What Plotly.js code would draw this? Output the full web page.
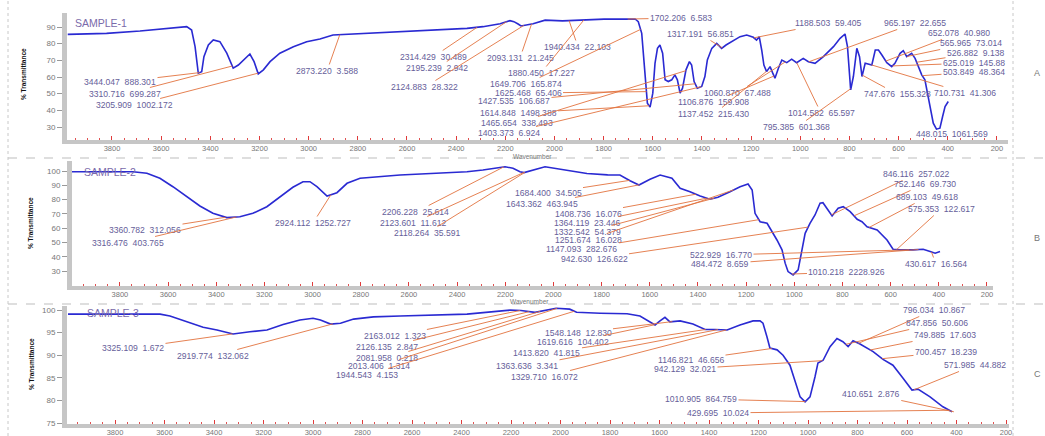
<!DOCTYPE html>
<html><head><meta charset="utf-8">
<script src="https://cdn.plot.ly/plotly-3.0.1.min.js"></script>
<style>html,body{margin:0;padding:0;background:#fff;}#chart{width:1045px;height:436px;}</style>
</head><body><div id="chart"></div>
<script>
// ---------------- DATA ----------------
const wn1=[3980,3822,3686,3552,3496,3476,3462,3449,3435,3426,3408,3388,3361,3333,3307,3286,3266,3239,3222,3205,3184,3157,3117,3062,3008,2954,2901,2763,2628,2494,2356,2291,2221,2181,2165,2148,2136,2087,2038,1967,1896,1798,1672,1659,1645,1632,1622,1611,1600,1591,1581,1571,1560,1550,1537,1523,1510,1500,1489,1479,1465,1451,1442,1432,1419,1401,1388,1378,1360,1340,1320,1302,1272,1245,1218,1191,1178,1167,1157,1148,1137,1123,1112,1103,1089,1075,1055,1035,1015,988,967,940,906,865,838,818,808,800,795,784,770,759,749,736,722,709,695,682,668,648,628,615,594,581,567,547,533,520,506,493,472,459,446,432,421,411,398];
const t1=[85.6,86.2,87.6,89.2,90.2,88.2,78.2,62.3,63.2,72.2,79.2,82.2,81.2,74.3,65.3,67.2,69.8,73.8,69.2,61.9,64.3,69.2,74.3,78.2,81.2,82.8,85.2,86.2,86.8,88.2,89.2,90.2,92.0,93.8,93.2,91.8,90.6,92.0,94.1,93.7,94.1,94.7,94.8,93.2,86.2,64.3,44.3,41.9,50.3,68.2,77.2,79.2,74.3,58.3,57.3,58.3,61.3,58.3,50.3,53.3,64.3,69.2,67.2,57.3,53.3,54.3,60.3,70.2,77.2,80.2,77.2,79.2,81.8,84.2,85.2,83.8,82.2,84.2,76.2,67.2,63.2,66.2,62.3,59.3,65.3,70.2,68.6,70.7,68.6,71.2,69.2,68.2,72.2,78.2,83.2,85.8,78.2,60.3,52.3,60.3,77.2,72.2,60.3,68.2,67.8,67.2,76.2,76.2,73.2,68.6,66.2,68.2,74.2,75.8,72.2,74.2,71.2,66.2,61.3,58.3,42.3,32.3,28.7,29.3,36.3,42.3,45.3];

const wn2=[3999,3746,3688,3634,3580,3522,3468,3414,3356,3302,3248,3190,3136,3082,3040,3011,2982,2940,2899,2857,2803,2637,2359,2293,2201,2168,2139,2122,2035,1977,1861,1775,1724,1682,1645,1599,1557,1508,1474,1433,1391,1350,1317,1267,1225,1192,1175,1163,1142,1113,1092,1072,1051,1038,1026,1005,984,968,955,935,914,893,881,860,843,818,797,768,739,719,698,656,615,590,561,507,465,436,415,395];
const t2=[99.5,99.5,98.4,94.9,89.0,82.0,75.5,70.4,67.4,68.0,70.4,75.0,82.0,88.6,92.5,92.5,89.0,82.5,84.8,91.4,94.9,97.2,99.5,100.7,103.0,101.9,99.5,98.9,103.0,101.3,98.2,97.3,97.2,93.2,90.2,94.2,97.2,94.9,87.9,85.5,82.5,80.2,81.6,85.5,89.0,90.9,86.7,70.4,64.5,63.4,57.5,51.7,44.8,35.5,29.6,27.3,30.8,44.8,56.4,63.4,69.2,77.4,77.8,72.7,68.5,73.9,75.0,71.5,66.2,64.5,61.0,58.7,51.7,45.2,44.8,44.8,45.2,43.6,42.5,43.6];

const wn3=[3990,3618,3578,3509,3444,3388,3323,3255,3186,3121,3053,3000,2970,2929,2889,2836,2756,2648,2378,2204,2160,2103,2018,1963,1935,1840,1731,1679,1618,1598,1578,1558,1517,1465,1416,1376,1327,1275,1222,1194,1182,1166,1154,1125,1101,1073,1053,1032,1012,992,972,960,939,911,883,859,838,818,790,762,737,697,657,616,580,556,507,455,418];
const t3=[99.1,99.1,98.7,97.4,96.2,95.6,94.7,95.2,95.6,96.8,97.8,98.2,97.8,96.9,97.1,98.0,98.5,98.7,99.1,100.0,99.9,99.5,100.4,100.2,99.5,99.3,99.2,98.7,96.7,97.6,98.4,97.4,97.6,96.9,95.7,95.7,95.6,96.7,97.6,97.6,97.1,94.1,91.6,91.2,90.0,87.8,84.5,80.8,79.7,80.8,85.2,88.3,88.9,91.9,93.7,93.0,91.9,93.2,92.5,91.5,90.8,89.1,87.8,84.9,82.3,82.5,80.8,78.6,77.5];

const xTicks=[3800,3600,3400,3200,3000,2800,2600,2400,2200,2000,1800,1600,1400,1200,1000,800,600,400,200];
const yTicks1=[30,40,50,60,70,80,90];
const yTicks2=[30,40,50,60,70,80,90,100];
const yTicks3=[75,80,85,90,95,100];
const sampleNames=["SAMPLE-1","SAMPLE-2","SAMPLE-3"];
const panelLetters=["A","B","C"];
const yTitle="% Transmittance";
const xTitle="Wavenumber";

const labels1=["3444.047  888.301","3310.716  699.287","3205.909  1002.172","2873.220  3.588","2314.429  30.489","2195.239  2.942","2124.883  28.322","2093.131  21.245","1940.434  22.103","1880.450  17.227","1702.206  6.583","1649.706  165.874","1625.468  65.406","1427.535  106.687","1614.848  1498.388","1465.654  338.493","1403.373  6.924","1317.191  56.851","1188.503  59.405","1060.870  67.488","1106.876  159.908","1137.452  215.430","1014.582  65.597","795.385  601.368","965.197  22.655","652.078  40.980","565.965  73.014","526.882  9.138","625.019  145.88","503.849  48.364","747.676  155.328","710.731  41.306","448.015  1061.569"];
const labels2=["3360.782  312.056","3316.476  403.765","2924.112  1252.727","2206.228  25.614","2123.601  11.612","2118.264  35.591","1684.400  34.505","1643.362  463.945","1408.736  16.076","1364.119  23.446","1332.542  54.379","1251.674  16.028","1147.093  282.676","942.630  126.622","522.929  16.770","484.472  8.659","1010.218  2228.926","846.116  257.022","752.146  69.730","689.103  49.618","575.353  122.617","430.617  16.564"];
const labels3=["3325.109  1.672","2919.774  132.062","2163.012  1.323","2126.135  2.847","2081.958  0.218","2013.406  1.314","1944.543  4.153","1548.148  12.830","1619.616  104.402","1413.820  41.815","1363.636  3.341","1329.710  16.072","1146.821  46.656","942.129  32.021","1010.905  864.759","429.695  10.024","796.034  10.867","847.856  50.606","749.885  17.603","700.457  18.239","571.985  44.882","410.651  2.876"];

// ---------------- LAYOUT (pixel positions of label texts) ----------------
const labelPos1=[[120,82],[125,94],[135,105],[327,71],[433,57],[437,68],[425,87],[520,58],[578,47],[541,73],[681,18],[526,84],[528,93],[514,101],[518,113],[517,123],[509,133],[700,34],[828,23],[737,93],[713,102],[714,114],[821,113],[797,127],[915,23],[959,33],[971,43],[976,53],[974,63],[974,72],[897,94],[965,93],[952,134]];
const labelPos2=[[145,230],[128,243],[313,223],[416,212],[413,223],[427,233],[548,193],[542,204],[588,214],[587,223],[587,232],[588,240],[582,249],[594,259],[721,255],[720,264],[847,272],[916,174],[925,184],[927,197],[941,209],[936,264]];
const labelPos3=[[133,348],[213,356],[395,336],[387,347],[387,358],[379,366],[367,375],[578,333],[573,342],[547,353],[527,366],[545,377],[691,360],[685,369],[701,399],[718,413],[934,310],[937,323],[945,335],[946,352],[975,365],[871,394]];

const W=1045,H=436;
const panels=[
 {box:[67,1008,13,140], xr:[3983,155], yr:[22.2,98.4], wn:wn1, t:t1, yt:yTicks1, labels:labels1, pos:labelPos1, name:[73,23], letter:73, ytitle:[24,74], xtitle:[532,156]},
 {box:[72,993,161,286], xr:[3999,175], yr:[19.5,107], wn:wn2, t:t2, yt:yTicks2, labels:labels2, pos:labelPos2, name:[82,172], letter:238, ytitle:[30,223], xtitle:[529,301]},
 {box:[67,1009,306,424], xr:[3994,188], yr:[74.8,100.9], wn:wn3, t:t3, yt:yTicks3, labels:labels3, pos:labelPos3, name:[85,313], letter:374, ytitle:[31,364], xtitle:null}
];

function interp(ws,ts,w){
  for(let i=0;i<ws.length-1;i++){
    if((w<=ws[i]&&w>=ws[i+1])){const f=(w-ws[i])/(ws[i+1]-ws[i]);return ts[i]+f*(ts[i+1]-ts[i]);}
  }
  return w>ws[0]?ts[0]:ts[ts.length-1];
}

const traces=[],annotations=[],shapes=[];
const layout={width:W,height:H,margin:{l:0,r:0,t:0,b:0},paper_bgcolor:'#fff',plot_bgcolor:'#fff',showlegend:false,
  font:{family:'"Liberation Sans", Arial, sans-serif',size:8,color:'#777'}};

const labelFont={family:'"Liberation Sans", Arial, sans-serif',size:8.6,color:'#66609a'};
const nb=s=>s.replace(/  /g,'\u00a0\u00a0');

panels.forEach((p,i)=>{
  const s=i===0?'':String(i+1);
  const [L,R,T,B]=p.box;
  traces.push({type:'scatter',mode:'lines',x:p.wn,y:p.t,xaxis:'x'+s,yaxis:'y'+s,
    line:{color:'#2a2ad2',width:1.6},hoverinfo:'skip'});
  layout['xaxis'+s]={domain:[L/W,R/W],anchor:'y'+s,range:p.xr,showgrid:false,zeroline:false,
    showline:true,linecolor:'#c6c6c6',linewidth:4,ticks:'inside',ticklen:4,tickwidth:1,tickcolor:'#e03a3a',
    tickvals:xTicks,ticktext:xTicks.map(String),tickfont:{size:7.5,color:'#777'},ticklabelstandoff:-2,
    minor:{ticks:'inside',ticklen:2,tickcolor:'#e05050',dtick:50,tick0:0,showgrid:false}};
  layout['yaxis'+s]={domain:[1-B/H,1-T/H],anchor:'x'+s,range:p.yr,showgrid:false,zeroline:false,
    showline:true,linecolor:'#c6c6c6',linewidth:5,ticks:'outside',ticklen:5,tickcolor:'#999',
    tickvals:p.yt,ticktext:p.yt.map(String),tickfont:{size:8,color:'#777'}};
  annotations.push({xref:'paper',yref:'paper',x:p.name[0]/W,y:1-p.name[1]/H,xanchor:'left',yanchor:'middle',
    text:sampleNames[i],showarrow:false,font:{size:10.5,color:'#7a6aaa'}});
  annotations.push({xref:'paper',yref:'paper',x:1037/W,y:1-p.letter/H,xanchor:'center',yanchor:'middle',
    text:panelLetters[i],showarrow:false,font:{size:9,color:'#777'}});
  annotations.push({xref:'paper',yref:'paper',x:p.ytitle[0]/W,y:1-p.ytitle[1]/H,xanchor:'center',yanchor:'middle',
    text:'<b>'+yTitle+'</b>',textangle:-90,showarrow:false,font:{size:6.5,color:'#111'}});
  if(p.xtitle!==null){
    annotations.push({xref:'paper',yref:'paper',x:p.xtitle[0]/W,y:1-p.xtitle[1]/H,xanchor:'center',yanchor:'middle',
      text:xTitle,showarrow:false,font:{size:6.5,color:'#777'}});
  }
  p.labels.forEach((lab,j)=>{
    const w=parseFloat(lab.split(/\s+/)[0]);
    const tv=interp(p.wn,p.t,w);
    const px=L+(w-p.xr[0])/(p.xr[1]-p.xr[0])*(R-L);
    const py=B-(tv-p.yr[0])/(p.yr[1]-p.yr[0])*(B-T);
    const [cx,cy]=p.pos[j];
    annotations.push({x:w,y:tv,xref:'x'+s,yref:'y'+s,text:nb(lab),showarrow:true,arrowhead:0,arrowwidth:0.9,
      arrowcolor:'#e2733e',ax:cx-px,ay:cy-py,standoff:0,font:labelFont});
  });
});

[158,304].forEach(y=>shapes.push({type:'line',xref:'paper',yref:'paper',x0:8/W,x1:1,y0:1-y/H,y1:1-y/H,line:{color:'#bdbdbd',width:1,dash:'dash'}}));
[8,1013].forEach(x=>shapes.push({type:'line',xref:'paper',yref:'paper',x0:x/W,x1:x/W,y0:0,y1:1,line:{color:'#c8c8c8',width:1,dash:'dot'}}));

layout.annotations=annotations;
layout.shapes=shapes;
Plotly.newPlot('chart',traces,layout,{displayModeBar:false,staticPlot:true});
</script></body></html>
